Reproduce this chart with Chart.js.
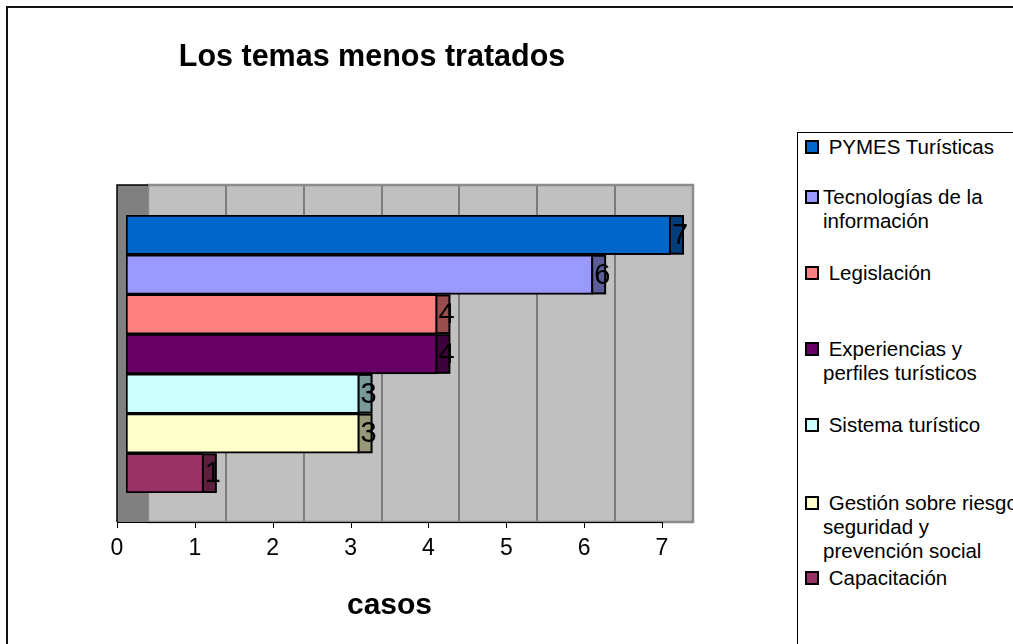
<!DOCTYPE html>
<html lang="es">
<head>
<meta charset="utf-8">
<title>Los temas menos tratados</title>
<script src="https://cdn.jsdelivr.net/npm/chart.js@4.4.1/dist/chart.umd.min.js"></script>
<style>
  html, body { margin: 0; padding: 0; background: #fff; overflow: hidden; }
  #marco {
    position: relative; width: 1013px; height: 644px; overflow: hidden;
    font-family: "Liberation Sans", Arial, sans-serif; color: #000;
  }
  #borde {
    position: absolute; left: 6px; top: 6px; width: 1100px; height: 700px;
    border: 2px solid #111;
  }
  #grafico { position: absolute; left: 0; top: 0; }
  #caixaLeyenda {
    position: absolute; left: 797px; top: 132px; width: 300px; height: 600px;
    border: 1.5px solid #000; background: #fff;
  }
  .item { position: absolute; left: 805px; font-size: 20.5px; line-height: 24px; }
  .marca {
    position: absolute; left: 0; top: 5px; width: 14px; height: 14px;
    box-sizing: border-box; border: 2px solid #000;
  }
  .texto { margin-left: 18px; white-space: pre; }
</style>
</head>
<body>
<div id="marco">
  <div id="borde"></div>
  <canvas id="grafico" width="1013" height="644"></canvas>
  <div id="caixaLeyenda"></div>
</div>

<script>
// Dados
const titulo = "Los temas menos tratados";
const tituloEixo = "casos";
const categorias = [
  "PYMES Turísticas",
  "Tecnologías de la información",
  "Legislación",
  "Experiencias y perfiles turísticos",
  "Sistema turístico",
  "Gestión sobre riesgos, seguridad y prevención social",
  "Capacitación",
];
const valores = [7, 6, 4, 4, 3, 3, 1];
const cores = ["#0066CC", "#9999FF", "#FF8080", "#660066", "#CCFFFF", "#FFFFCC", "#993366"];
// textos da legenda como aparecem (com as quebras de linha do Excel)
const textosLeyenda = [
  " PYMES Turísticas",
  "Tecnologías de la\ninformación",
  " Legislación",
  " Experiencias y\nperfiles turísticos",
  " Sistema turístico",
  " Gestión sobre riesgos,\nseguridad y\nprevención social",
  " Capacitación",
];
const eixoMin = 0;
const eixoMax = 7;

// layout (pixels)
const topoLeyenda = [135, 185, 261, 337, 413, 491, 566];
const PROF_X = 31;        // profundidade 3D das paredes
const PROF_Y = 30;
const DESLOC_BARRA = 9;   // barras ficam um pouco atrás do plano frontal
const LADO_BARRA = 13;    // largura da face lateral das barras
const FONTE = "'Liberation Sans', Arial, sans-serif";


function escurecer(hex, f) {
  const h = hex.replace("#", "");
  const r = Math.round(parseInt(h.slice(0, 2), 16) * f);
  const g = Math.round(parseInt(h.slice(2, 4), 16) * f);
  const b = Math.round(parseInt(h.slice(4, 6), 16) * f);
  return `rgb(${r}, ${g}, ${b})`;
}


// ---------------------------------------------------------------------------
// Paredes, eixo, faces laterais e rótulos
// ---------------------------------------------------------------------------

const paredes3d = {
  id: "paredes3d",
  beforeDatasetsDraw(chart) {
    const { ctx, chartArea: a, scales: { x } } = chart;
    const x0 = x.getPixelForValue(eixoMin);
    const x1 = x.getPixelForValue(eixoMax);
    const topo = a.top - PROF_Y;
    const base = a.bottom + PROF_Y - 1;

    ctx.save();
    // parede do fundo
    ctx.fillStyle = "#c0c0c0";
    ctx.fillRect(x0 + PROF_X, topo, x1 - x0, base - topo);
    ctx.strokeStyle = "#4d4d4d";
    ctx.lineWidth = 1.2;
    for (let v = eixoMin + 1; v < eixoMax; v++) {
      const px = Math.round(x.getPixelForValue(v) + PROF_X);
      ctx.beginPath();
      ctx.moveTo(px, topo);
      ctx.lineTo(px, base);
      ctx.stroke();
    }
    ctx.strokeStyle = "#8c8c8c";
    ctx.lineWidth = 2.5;
    ctx.strokeRect(x0 + PROF_X, topo, x1 - x0, base - topo);

    // parede lateral
    ctx.fillStyle = "#808080";
    ctx.fillRect(x0, topo, PROF_X, base - topo);
    ctx.strokeStyle = "#000";
    ctx.lineWidth = 1.5;
    ctx.beginPath();
    ctx.moveTo(x0, base);
    ctx.lineTo(x0, topo);
    ctx.lineTo(x0 + PROF_X, topo);
    ctx.stroke();

    // linha do eixo com marcas
    ctx.lineWidth = 1;
    ctx.beginPath();
    ctx.moveTo(x0, base + 0.5);
    ctx.lineTo(x1, base + 0.5);
    x.ticks.forEach((t) => {
      const px = Math.round(x.getPixelForValue(t.value)) + 0.5;
      ctx.moveTo(px, base);
      ctx.lineTo(px, base + 6);
    });
    ctx.stroke();
    ctx.restore();

    // barras desenhadas deslocadas
    ctx.save();
    ctx.translate(DESLOC_BARRA, 0);
  },

  afterDatasetsDraw(chart) {
    const { ctx } = chart;
    ctx.restore();
    const meta = chart.getDatasetMeta(0);
    ctx.save();
    meta.data.forEach((barra, i) => {
      const fim = barra.x + DESLOC_BARRA;
      const alto = barra.height;
      const y0 = barra.y - alto / 2;
      ctx.fillStyle = escurecer(cores[i], 0.6);
      ctx.fillRect(fim - 1, y0 + 1, LADO_BARRA, alto - 2);
      ctx.strokeStyle = "#000";
      ctx.lineWidth = 2;
      ctx.strokeRect(fim - 1, y0 + 1, LADO_BARRA, alto - 2);

      ctx.fillStyle = "#000";
      ctx.font = "29px " + FONTE;
      ctx.textAlign = "left";
      ctx.textBaseline = "middle";
      ctx.fillText(String(valores[i]), fim + 1, barra.y + 1);
    });
    ctx.restore();
  },

  afterDraw(chart) {
    const { ctx } = chart;
    ctx.save();
    ctx.fillStyle = "#000";
    ctx.font = "bold 30.5px " + FONTE;
    ctx.textAlign = "center";
    ctx.textBaseline = "alphabetic";
    ctx.fillText(titulo, 372, 66);
    ctx.restore();
  },
};


// ---------------------------------------------------------------------------
// Gráfico
// ---------------------------------------------------------------------------

new Chart(document.getElementById("grafico"), {
  type: "bar",
  data: {
    labels: categorias,
    datasets: [{
      data: valores,
      backgroundColor: cores,
      borderColor: "#000",
      borderWidth: 2,
      borderSkipped: false,
      barPercentage: 1,
      categoryPercentage: 1,
    }],
  },
  options: {
    indexAxis: "y",
    responsive: false,
    animation: false,
    events: [],
    layout: { padding: { left: 117, right: 351, top: 215, bottom: 0 } },
    plugins: {
      legend: { display: false },
      tooltip: { enabled: false },
    },
    scales: {
      x: {
        min: eixoMin,
        max: eixoMax,
        grid: { display: false, drawTicks: false },
        border: { display: false },
        ticks: {
          stepSize: 1,
          padding: 42,
          color: "#000",
          font: { family: FONTE, size: 23 },
        },
        title: {
          display: true,
          text: tituloEixo,
          color: "#000",
          font: { family: FONTE, size: 30, weight: "bold" },
          padding: { top: 0, bottom: 20 },
        },
        afterFit(scale) { scale.height = 151; },
      },
      y: { display: false },
    },
  },
  plugins: [paredes3d],
});


// ---------------------------------------------------------------------------
// Legenda em HTML (o Excel quebra os textos e espaça os itens de forma irregular)
// ---------------------------------------------------------------------------

const marco = document.getElementById("marco");
textosLeyenda.forEach((txt, i) => {
  const item = document.createElement("div");
  item.className = "item";
  item.style.top = topoLeyenda[i] + "px";
  const marca = document.createElement("span");
  marca.className = "marca";
  marca.style.background = cores[i];
  const texto = document.createElement("div");
  texto.className = "texto";
  texto.textContent = txt;
  item.appendChild(marca);
  item.appendChild(texto);
  marco.appendChild(item);
});
</script>
</body>
</html>
